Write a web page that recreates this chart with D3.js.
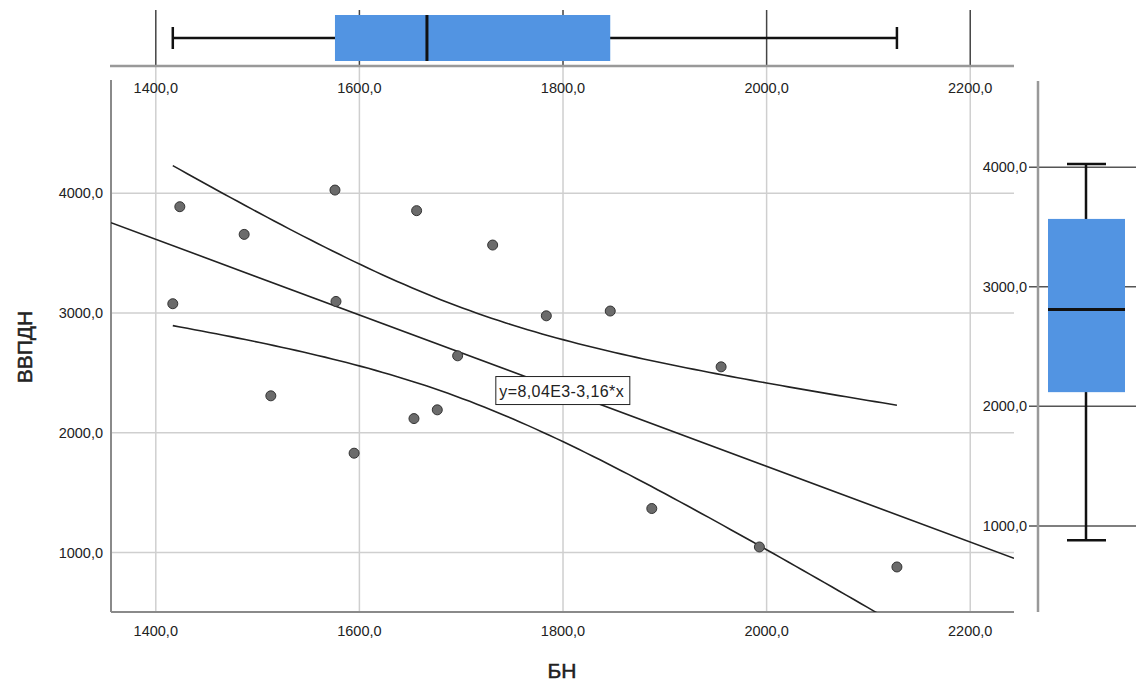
<!DOCTYPE html>
<html>
<head>
<meta charset="utf-8">
<script src="https://cdn.jsdelivr.net/npm/d3@7"></script>
<style>
  body { margin: 0; background: #fff; }
  text { font-family: "Liberation Sans", Arial, sans-serif; fill: #222; }
</style>
</head>
<body>
<div id="chart"></div>
<script>
// БН (x) and ВВПДН (y)
const bnValues = [1416.7, 1423.6, 1486.8, 1513, 1576, 1577, 1594.8, 1653.6, 1656.2,
                  1676.5, 1696.5, 1730.9, 1783.6, 1846.4, 1887.2, 1955.3, 1992.9, 2128];
const vvpdnValues = [3078, 3888, 3657, 2309, 4027, 3097, 1830, 2119, 3855,
                     2192, 2643, 3568, 2977, 3017, 1368, 2551, 1047, 880];
const xTicks = [1400, 1600, 1800, 2000, 2200];
const yTicks = [1000, 2000, 3000, 4000];
const fitCoef = [8040, -3.16];   // intercept, slope
const fitLabel = "y=8,04E3-3,16*x";

const W = 1136, H = 681;
const plot = { left: 111, right: 1014, top: 80, bottom: 612 };
const fmt = d => d3.format(".1f")(d).replace(".", ",");
const tickFont = 14.5;

const svg = d3.select("#chart").append("svg")
    .attr("width", W).attr("height", H);

const x = d3.scaleLinear().domain([1356, 2243]).range([plot.left, plot.right]);
const y = d3.scaleLinear().domain([504, 4946]).range([plot.bottom, plot.top]);
const yBox = d3.scaleLinear().domain([280, 4730]).range([plot.bottom, plot.top]);

const points = bnValues.map((v, i) => ({ x: v, y: vvpdnValues[i] }));

// tukey hinges like spss
function boxStats(vals) {
  const s = vals.slice().sort(d3.ascending);
  const n = s.length;
  const half = Math.floor((n + 1) / 2);
  const lo = s.slice(0, half), hi = s.slice(n - half);
  return { min: s[0], q1: d3.median(lo), med: d3.median(s), q3: d3.median(hi), max: s[n - 1] };
}

// main grid
svg.append("g").selectAll("line").data(xTicks).join("line")
   .attr("x1", d => x(d)).attr("x2", d => x(d))
   .attr("y1", 66).attr("y2", plot.bottom)
   .attr("stroke", "#cfcfcf").attr("stroke-width", 1.5);
svg.append("g").selectAll("line").data(yTicks).join("line")
   .attr("x1", plot.left).attr("x2", plot.right)
   .attr("y1", d => y(d)).attr("y2", d => y(d))
   .attr("stroke", "#cfcfcf").attr("stroke-width", 1.5);

// main axes
svg.append("line").attr("x1", plot.left).attr("x2", plot.right)
   .attr("y1", plot.bottom).attr("y2", plot.bottom)
   .attr("stroke", "#8a8a8a").attr("stroke-width", 2);
svg.append("line").attr("x1", plot.left).attr("x2", plot.left)
   .attr("y1", plot.top).attr("y2", plot.bottom)
   .attr("stroke", "#8a8a8a").attr("stroke-width", 2);

svg.append("g").selectAll("text").data(xTicks).join("text")
   .attr("x", d => x(d)).attr("y", 636)
   .attr("text-anchor", "middle").attr("font-size", tickFont)
   .text(fmt);
svg.append("g").selectAll("text").data(yTicks).join("text")
   .attr("x", 103).attr("y", d => y(d) + 5)
   .attr("text-anchor", "end").attr("font-size", tickFont)
   .text(fmt);

// regression line + 95% mean CI
svg.append("clipPath").attr("id", "clip").append("rect")
   .attr("x", plot.left).attr("y", plot.top)
   .attr("width", plot.right - plot.left).attr("height", plot.bottom - plot.top);

const fit = v => fitCoef[0] + fitCoef[1] * v;
const n = points.length;
const xMean = d3.mean(bnValues);
const sxx = d3.sum(bnValues, v => (v - xMean) ** 2);
const sRes = Math.sqrt(d3.sum(points, p => (p.y - fit(p.x)) ** 2) / (n - 2));
const tCrit = 2.12;
const band = sign => v => fit(v) + sign * tCrit * sRes * Math.sqrt(1 / n + (v - xMean) ** 2 / sxx);

const xs = d3.range(d3.min(bnValues), d3.max(bnValues) + 0.1, (d3.max(bnValues) - d3.min(bnValues)) / 100);
const lineG = svg.append("g").attr("clip-path", "url(#clip)")
   .attr("fill", "none").attr("stroke", "#222").attr("stroke-width", 1.6);
lineG.append("path").attr("d", d3.line()(x.domain().map(v => [x(v), y(fit(v))])));
[1, -1].forEach(sg => {
  const f = band(sg);
  lineG.append("path").attr("d", d3.line()(xs.map(v => [x(v), y(f(v))])));
});

// points
svg.append("g").selectAll("circle").data(points).join("circle")
   .attr("cx", d => x(d.x)).attr("cy", d => y(d.y)).attr("r", 5)
   .attr("fill", "#6b6b6b").attr("stroke", "#333").attr("stroke-width", 1);

// equation label
const lab = svg.append("g").attr("transform", `translate(${x(1734)},${y(2470)})`);
lab.append("rect").attr("width", 134).attr("height", 28)
   .attr("fill", "#fff").attr("stroke", "#222").attr("stroke-width", 1);
lab.append("text").attr("x", 3.5).attr("y", 20).attr("font-size", 16)
   .attr("letter-spacing", 0.4).text(fitLabel);

// top boxplot (БН)
const bx = boxStats(bnValues);
svg.append("g").selectAll("line").data(xTicks).join("line")
   .attr("x1", d => x(d)).attr("x2", d => x(d)).attr("y1", 10).attr("y2", 66)
   .attr("stroke", "#444").attr("stroke-width", 1.5);
svg.append("line").attr("x1", plot.left - 1).attr("x2", plot.right)
   .attr("y1", 66).attr("y2", 66).attr("stroke", "#999").attr("stroke-width", 2.5);
svg.append("g").selectAll("text").data(xTicks).join("text")
   .attr("x", d => x(d)).attr("y", 93)
   .attr("text-anchor", "middle").attr("font-size", tickFont).text(fmt);
const tb = svg.append("g").attr("stroke", "#111").attr("stroke-width", 2.5);
tb.append("line").attr("x1", x(bx.min)).attr("x2", x(bx.max)).attr("y1", 38).attr("y2", 38);
tb.append("line").attr("x1", x(bx.min)).attr("x2", x(bx.min)).attr("y1", 27).attr("y2", 49);
tb.append("line").attr("x1", x(bx.max)).attr("x2", x(bx.max)).attr("y1", 27).attr("y2", 49);
tb.append("rect").attr("x", x(bx.q1)).attr("y", 15)
   .attr("width", x(bx.q3) - x(bx.q1)).attr("height", 46)
   .attr("fill", "#5294e2").attr("stroke", "none");
tb.append("line").attr("x1", x(bx.med)).attr("x2", x(bx.med)).attr("y1", 15).attr("y2", 61)
   .attr("stroke-width", 3);

// right boxplot (ВВПДН)
const by = boxStats(vvpdnValues);
svg.append("g").selectAll("line").data(yTicks).join("line")
   .attr("x1", 1029).attr("x2", W).attr("y1", d => yBox(d)).attr("y2", d => yBox(d))
   .attr("stroke", "#555").attr("stroke-width", 1.5);
svg.append("line").attr("x1", 1038).attr("x2", 1038)
   .attr("y1", 81).attr("y2", plot.bottom).attr("stroke", "#999").attr("stroke-width", 2.5);
svg.append("g").selectAll("text").data(yTicks).join("text")
   .attr("x", 1027).attr("y", d => yBox(d) + 5)
   .attr("text-anchor", "end").attr("font-size", tickFont).text(fmt);
const cx = 1086;
const rb = svg.append("g").attr("stroke", "#111").attr("stroke-width", 2.5);
rb.append("line").attr("x1", cx).attr("x2", cx).attr("y1", yBox(by.max)).attr("y2", yBox(by.min));
rb.append("line").attr("x1", 1067).attr("x2", 1106).attr("y1", yBox(by.max)).attr("y2", yBox(by.max));
rb.append("line").attr("x1", 1067).attr("x2", 1106).attr("y1", yBox(by.min)).attr("y2", yBox(by.min));
rb.append("rect").attr("x", 1048).attr("y", yBox(by.q3))
   .attr("width", 77).attr("height", yBox(by.q1) - yBox(by.q3))
   .attr("fill", "#5294e2").attr("stroke", "none");
rb.append("line").attr("x1", 1048).attr("x2", 1125)
   .attr("y1", yBox(by.med)).attr("y2", yBox(by.med)).attr("stroke-width", 3);

// axis titles
svg.append("text").attr("x", 562).attr("y", 678)
   .attr("text-anchor", "middle").attr("font-size", 21)
   .attr("stroke", "#222").attr("stroke-width", 0.5).text("БН");
svg.append("text").attr("transform", "translate(32,347) rotate(-90)")
   .attr("text-anchor", "middle").attr("font-size", 21)
   .attr("stroke", "#222").attr("stroke-width", 0.5).text("ВВПДН");
</script>
</body>
</html>
